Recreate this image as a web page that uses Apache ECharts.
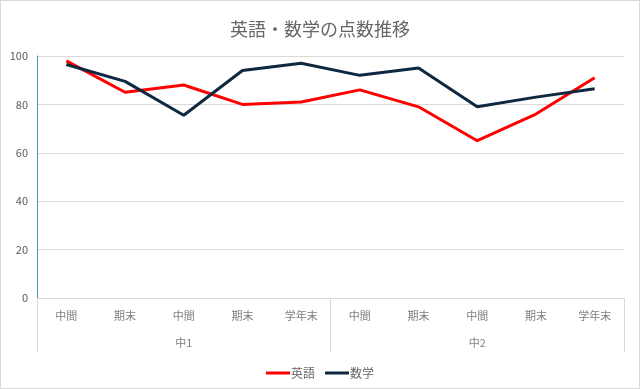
<!DOCTYPE html>
<html>
<head>
<meta charset="utf-8">
<script src="https://cdn.jsdelivr.net/npm/echarts@6/dist/echarts.min.js"></script>
<style>
html,body{margin:0;padding:0;background:#fff;}
#c{width:640px;height:389px;box-sizing:border-box;border:1px solid #d9d9d9;}
</style>
</head>
<body>
<div id="c"></div>
<script>
const terms = ['中間','期末','中間','期末','学年末','中間','期末','中間','期末','学年末'];
const grades = ['中1','中2'];
const english = [98, 85, 88, 80, 81, 86, 79, 65, 76, 91];
const math = [96.5, 89.5, 75.5, 94, 97, 92, 95, 79, 83, 86.5];
const yTicks = [0, 20, 40, 60, 80, 100];

const font = '"Noto Sans CJK JP", "Noto Sans", sans-serif';
const chart = echarts.init(document.getElementById('c'));
chart.setOption({
  animation: false,
  title: {
    text: '英語・数学の点数推移',
    left: 'center',
    top: 14,
    textStyle: {fontFamily: font, fontSize: 18, fontWeight: 'normal', color: '#666666'}
  },
  legend: {
    top: 361,
    left: 'center',
    icon: 'rect',
    itemWidth: 24,
    itemHeight: 3,
    itemGap: 10,
    textStyle: {fontFamily: font, fontSize: 12, color: '#666666', padding: [0,0,0,-4]},
    data: ['英語','数学']
  },
  grid: {left: 36, right: 15, top: 55, bottom: 90, containLabel: false},
  xAxis: [
    {
      type: 'category',
      data: terms,
      position: 'bottom',
      boundaryGap: true,
      axisLine: {show: true, lineStyle: {color: '#d9d9d9', width: 1}},
      axisTick: {show: false},
      axisLabel: {fontFamily: font, fontSize: 11, color: '#7f7f7f', margin: 12, interval: 0}
    },
    {
      type: 'category',
      data: grades,
      position: 'bottom',
      boundaryGap: true,
      axisLine: {show: false},
      axisTick: {show: true, length: 54, lineStyle: {color: '#d9d9d9', width: 1}},
      axisLabel: {fontFamily: font, fontSize: 11, color: '#7f7f7f', margin: 39}
    }
  ],
  yAxis: {
    type: 'value',
    min: yTicks[0],
    max: yTicks[yTicks.length - 1],
    interval: 20,
    axisLine: {show: true, lineStyle: {color: '#4f93bd', width: 1}},
    axisTick: {show: false},
    axisLabel: {fontFamily: font, fontSize: 11, color: '#595959', margin: 9},
    splitLine: {lineStyle: {color: '#d9d9d9', width: 1}}
  },
  series: [
    {
      name: '英語', type: 'line', data: english, xAxisIndex: 0,
      symbol: 'none', lineStyle: {color: '#ff0000', width: 3}, itemStyle: {color: '#ff0000'}
    },
    {
      name: '数学', type: 'line', data: math, xAxisIndex: 0,
      symbol: 'none', lineStyle: {color: '#0e2841', width: 3}, itemStyle: {color: '#0e2841'}
    }
  ]
});
</script>
</body>
</html>
